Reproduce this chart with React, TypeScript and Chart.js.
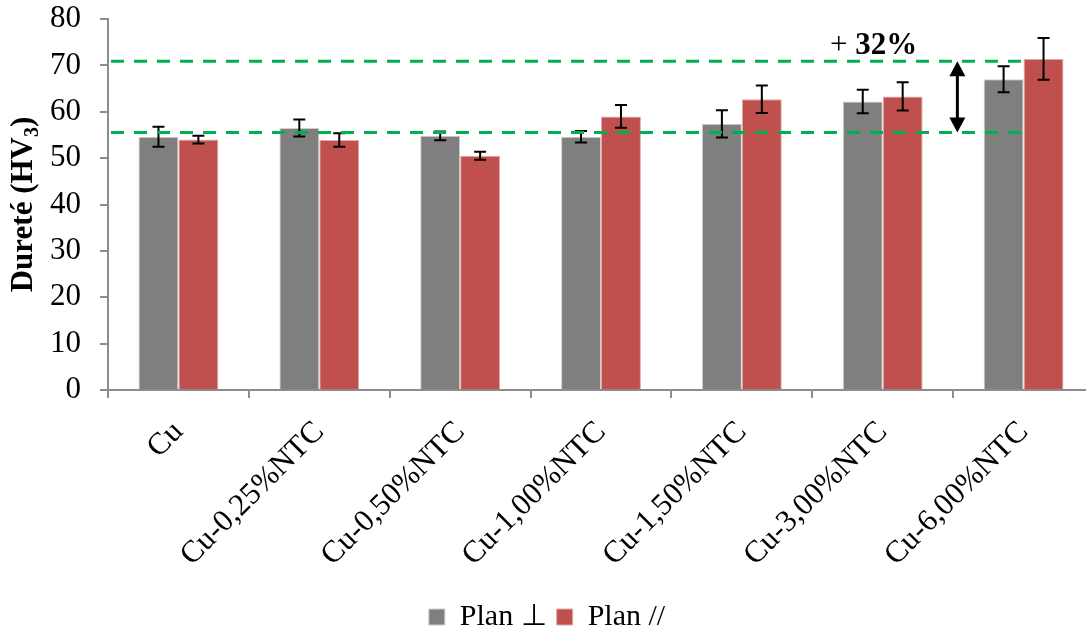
import React, { useEffect, useRef } from "react";
import { Chart, registerables } from "chart.js";

Chart.register(...registerables);

const categories = [
  "Cu",
  "Cu-0,25%NTC",
  "Cu-0,50%NTC",
  "Cu-1,00%NTC",
  "Cu-1,50%NTC",
  "Cu-3,00%NTC",
  "Cu-6,00%NTC",
];
const seriesNames = ["Plan \u22A5", "Plan //"];
const perpValues = [54.6, 56.5, 54.8, 54.6, 57.4, 62.2, 67.0];
const perpErrors = [2.15, 1.85, 0.95, 1.25, 2.95, 2.55, 2.8];
const paraValues = [54.0, 53.9, 50.5, 59.0, 62.7, 63.3, 71.4];
const paraErrors = [0.85, 1.45, 0.85, 2.45, 2.95, 3.05, 4.5];
const refLines = [55.5, 70.9];
const annotationText = ["+ ", "32%"];
const yTicks = [0, 10, 20, 30, 40, 50, 60, 70, 80];

const FONT = "'Liberation Serif', 'Times New Roman', serif";
const AXIS_COLOR = "#8c8c8c";

const errorBarPlugin = {
  id: "errorBars",
  afterDatasetsDraw(chart: any) {
    const ctx = chart.ctx;
    const y = chart.scales.y;
    const errs = [perpErrors, paraErrors];
    ctx.save();
    ctx.strokeStyle = "#000";
    ctx.lineWidth = 2;
    chart.data.datasets.forEach((ds: any, di: number) => {
      const meta = chart.getDatasetMeta(di);
      meta.data.forEach((bar: any, i: number) => {
        const v = ds.data[i];
        const e = errs[di][i];
        const yt = y.getPixelForValue(v + e);
        const yb = y.getPixelForValue(v - e);
        const x = bar.x;
        ctx.beginPath();
        ctx.moveTo(x, yt);
        ctx.lineTo(x, yb);
        ctx.moveTo(x - 6, yt);
        ctx.lineTo(x + 6, yt);
        ctx.moveTo(x - 6, yb);
        ctx.lineTo(x + 6, yb);
        ctx.stroke();
      });
    });
    ctx.restore();
  },
};

const overlayPlugin = {
  id: "overlay",
  afterDatasetsDraw(chart: any) {
    const ctx = chart.ctx;
    const x = chart.scales.x;
    const y = chart.scales.y;
    const area = chart.chartArea;
    const xEnd = x.getPixelForValue(categories.length - 1);
    ctx.save();
    ctx.strokeStyle = "#00B050";
    ctx.lineWidth = 3;
    ctx.setLineDash([13, 10]);
    refLines.forEach((v) => {
      const py = y.getPixelForValue(v);
      ctx.beginPath();
      ctx.moveTo(area.left + 3, py);
      ctx.lineTo(xEnd, py);
      ctx.stroke();
    });
    ctx.setLineDash([]);
    const x5 = x.getPixelForValue(5);
    const x6 = x.getPixelForValue(6);
    const ax = x5 + 0.53 * (x6 - x5);
    const yTop = y.getPixelForValue(refLines[1]);
    const yBot = y.getPixelForValue(refLines[0]);
    ctx.strokeStyle = "#000";
    ctx.fillStyle = "#000";
    ctx.lineWidth = 3;
    ctx.beginPath();
    ctx.moveTo(ax, yTop + 12);
    ctx.lineTo(ax, yBot - 12);
    ctx.stroke();
    ctx.beginPath();
    ctx.moveTo(ax, yTop);
    ctx.lineTo(ax - 8, yTop + 15);
    ctx.lineTo(ax + 8, yTop + 15);
    ctx.closePath();
    ctx.fill();
    ctx.beginPath();
    ctx.moveTo(ax, yBot);
    ctx.lineTo(ax - 8, yBot - 15);
    ctx.lineTo(ax + 8, yBot - 15);
    ctx.closePath();
    ctx.fill();
    const tx = x5 - 0.064 * (x6 - x5);
    const ty = yTop - 7;
    ctx.textBaseline = "alphabetic";
    ctx.font = `31px ${FONT}`;
    const w1 = ctx.measureText(annotationText[0]).width;
    ctx.font = `bold 31px ${FONT}`;
    const w2 = ctx.measureText(annotationText[1]).width;
    const start = tx - (w1 + w2) / 2;
    ctx.textAlign = "left";
    ctx.font = `31px ${FONT}`;
    ctx.fillText(annotationText[0], start, ty);
    ctx.font = `bold 31px ${FONT}`;
    ctx.fillText(annotationText[1], start + w1, ty);
    ctx.restore();
  },
};

const yTitlePlugin = {
  id: "yTitle",
  afterDraw(chart: any) {
    const ctx = chart.ctx;
    const parts = [
      { t: "Dureté (HV", f: `bold 31px ${FONT}`, dy: 0 },
      { t: "3", f: `bold 20px ${FONT}`, dy: 6 },
      { t: ")", f: `bold 31px ${FONT}`, dy: 0 },
    ];
    ctx.save();
    let total = 0;
    const widths = parts.map((p) => {
      ctx.font = p.f;
      const w = ctx.measureText(p.t).width;
      total += w;
      return w;
    });
    const area = chart.chartArea;
    ctx.translate(32, (area.top + area.bottom) / 2);
    ctx.rotate(-Math.PI / 2);
    ctx.fillStyle = "#000";
    ctx.textBaseline = "alphabetic";
    ctx.textAlign = "left";
    let cx = -total / 2;
    parts.forEach((p, i) => {
      ctx.font = p.f;
      ctx.fillText(p.t, cx, p.dy);
      cx += widths[i];
    });
    ctx.restore();
  },
};

export default function App() {
  const ref = useRef<HTMLCanvasElement>(null);
  useEffect(() => {
    document.body.style.overflow = "hidden";
    const chart = new Chart(ref.current!, {
      type: "bar",
      data: {
        labels: categories,
        datasets: [
          {
            label: seriesNames[0],
            data: perpValues,
            backgroundColor: "#7F7F7F",
            borderColor: "#cfcfcf",
            borderWidth: 1,
            categoryPercentage: 0.567,
            barPercentage: 1.0,
          },
          {
            label: seriesNames[1],
            data: paraValues,
            backgroundColor: "#C0504D",
            borderColor: "#dfa9a7",
            borderWidth: 1,
            categoryPercentage: 0.567,
            barPercentage: 1.0,
          },
        ],
      },
      options: {
        animation: false,
        responsive: false,
        maintainAspectRatio: false,
        layout: { padding: { top: 19, right: 6, left: 0, bottom: 3 } },
        plugins: {
          tooltip: { enabled: false },
          legend: {
            position: "bottom",
            labels: {
              boxWidth: 16,
              boxHeight: 16,
              padding: 10,
              color: "#000",
              font: { family: FONT, size: 30 },
            },
          },
        },
        scales: {
          x: {
            offset: true,
            grid: {
              display: true,
              drawOnChartArea: false,
              drawTicks: true,
              tickLength: 8,
              offset: true,
              color: AXIS_COLOR,
              lineWidth: 2,
            },
            border: { display: true, color: AXIS_COLOR, width: 2 },
            ticks: {
              color: "#000",
              font: { family: FONT, size: 31 },
              minRotation: 45,
              maxRotation: 45,
              autoSkip: false,
              padding: 16,
              labelOffset: 0,
            },
            afterFit(scale: any) {
              scale.height = 202;
              scale.paddingTop = 0;
              scale.paddingBottom = 0;
            },
          },
          y: {
            min: 0,
            max: 80,
            afterBuildTicks(scale: any) {
              scale.ticks = yTicks.map((v) => ({ value: v }));
            },
            grid: {
              display: true,
              drawOnChartArea: false,
              drawTicks: true,
              tickLength: 8,
              color: AXIS_COLOR,
              lineWidth: 2,
            },
            border: { display: true, color: AXIS_COLOR, width: 2 },
            ticks: {
              color: "#000",
              font: { family: FONT, size: 31 },
              padding: 19,
            },
            afterFit(scale: any) {
              scale.width = 108;
              scale.paddingTop = 0;
              scale.paddingBottom = 0;
            },
          },
        },
      },
      plugins: [errorBarPlugin, overlayPlugin, yTitlePlugin],
    });
    return () => chart.destroy();
  }, []);
  return (
    <div style={{ position: "absolute", left: 0, top: 0, width: 1100, height: 645 }}>
      <canvas ref={ref} width={1100} height={645} style={{ width: 1100, height: 645 }} />
    </div>
  );
}
